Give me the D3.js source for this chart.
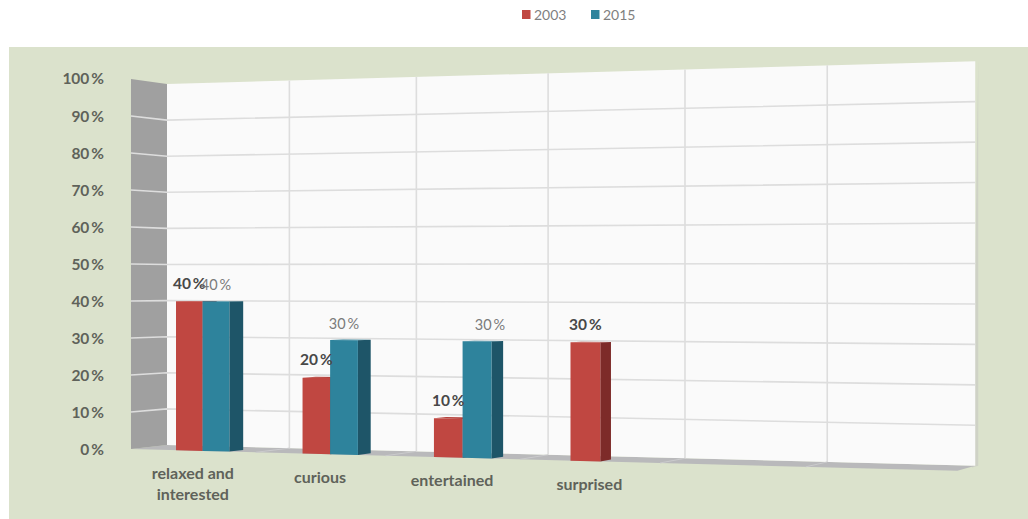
<!DOCTYPE html>
<html>
<head>
<meta charset="utf-8">
<script src="https://cdn.jsdelivr.net/npm/d3@7"></script>
<style>
  html, body { margin: 0; padding: 0; background: #fff; }
  svg { display: block; }
  text { font-family: Lato, "Open Sans", sans-serif; }
</style>
</head>
<body>
<div id="chart"></div>
<script>
// Chart data
const categories = [["relaxed and", "interested"], ["curious"], ["entertained"], ["surprised"], [""], [""]];
const seriesNames = ["2003", "2015"];
const values2003 = [40, 20, 10, 30];
const values2015 = [40, 30, 30, null];
const valueTicks = d3.range(0, 101, 10);

const colors = {
  panel: "#dbe2cc",
  wall: "#fafafa",
  sideWall: "#a0a0a0",
  floor: "#b9b9bb",
  grid: "#dddddd",
  axisText: "#5f625a",
  legendText: "#7f7f7f"
};
const barShades = {
  "2003": { front: "#c04741", side: "#7d2b29", top: "#b5423c" },
  "2015": { front: "#2e839c", side: "#1e5568", top: "#2a7a92" }
};

const width = 1028, height = 519;
const svg = d3.select("#chart").append("svg").attr("width", width).attr("height", height);

// Scales for the three axes of the box: category, value and depth
const uScale = d3.scaleBand().domain(d3.range(categories.length)).range([0, categories.length]);
const vScale = d3.scaleLinear().domain([0, 100]).range([445, 84]);

// Perspective projection of a box coordinate to the page
function project(u, value, depth) {
  const w = 1 - 0.01795 * u - 0.0243 * depth;
  return [
    (117.2 * u + 167 - 39.2 * depth) / w,
    (-4.9 * u + vScale(value) - 6.9 * depth) / w
  ];
}
const path = d3.line();
const poly = pts => path(pts) + "Z";
const U = categories.length;

// Background panel
svg.append("rect").attr("x", 9).attr("y", 47).attr("width", width - 9).attr("height", height - 47)
  .attr("fill", colors.panel);

// Back wall, side wall and floor
const box = svg.append("g");
box.append("path")
  .attr("d", poly([project(U, 100, 0), project(U, 0, 0), project(U, 0, 0.35)].map(p => [p[0] + 3, p[1]])))
  .attr("fill", "#cfd2c6");
box.append("path")
  .attr("d", poly([project(0, 0, 0), project(U, 0, 0), project(U, 0, 1), project(0, 0, 1)]))
  .attr("fill", colors.floor);
box.append("path")
  .attr("d", poly([project(0, 100, 0), project(U, 100, 0), project(U, 0, 0), project(0, 0, 0)]))
  .attr("fill", colors.wall);
box.append("path")
  .attr("d", poly([project(0, 100, 1), project(0, 100, 0), project(0, 0, 0), project(0, 0, 1)]))
  .attr("fill", colors.sideWall);

// Grid lines across both walls and the floor
const gridPath = pts => path(pts);
box.append("g").selectAll("path").data(valueTicks.filter(t => t > 0 && t < 100)).join("path")
  .attr("d", t => gridPath([project(0, t, 1), project(0, t, 0), project(U, t, 0)]))
  .attr("fill", "none").attr("stroke", colors.grid).attr("stroke-width", 1.6);
box.append("g").selectAll("path").data(d3.range(1, U)).join("path")
  .attr("d", u => gridPath([project(u, 100, 0), project(u, 0, 0)]))
  .attr("fill", "none").attr("stroke", colors.grid).attr("stroke-width", 1.6);
box.append("g").selectAll("path").data(d3.range(1, U)).join("path")
  .attr("d", u => gridPath([project(u, 0, 0), project(u, 0, 1)]))
  .attr("fill", "none").attr("stroke", "#cbcbcd").attr("stroke-width", 1);

// Bars: each one is a projected cuboid
const barStart = 0.365, barSize = 0.213, depthFront = 1, depthBack = 0.6;
const rows = [];
categories.forEach((c, i) => {
  [values2003, values2015].forEach((vals, j) => {
    if (vals[i] != null) rows.push({ i, j, value: vals[i], series: seriesNames[j] });
  });
});
const u0 = d => uScale(d.i) + barStart + d.j * barSize;
const bars = svg.append("g").selectAll("g").data(rows).join("g");
bars.append("path")
  .attr("d", d => poly([
    project(u0(d), d.value, depthFront), project(u0(d) + barSize, d.value, depthFront),
    project(u0(d) + barSize, d.value, depthBack), project(u0(d), d.value, depthBack)]))
  .attr("fill", d => barShades[d.series].top);
bars.append("path")
  .attr("d", d => poly([
    project(u0(d) + barSize, d.value, depthFront), project(u0(d) + barSize, d.value, depthBack),
    project(u0(d) + barSize, 0, depthBack), project(u0(d) + barSize, 0, depthFront)]))
  .attr("fill", d => barShades[d.series].side);
bars.append("path")
  .attr("d", d => poly([
    project(u0(d), d.value, depthFront), project(u0(d) + barSize, d.value, depthFront),
    project(u0(d) + barSize, 0, depthFront), project(u0(d), 0, depthFront)]))
  .attr("fill", d => barShades[d.series].front);

// Value labels sit above the bars, the lone third-group label is pushed right
const labelShift = { "2-1": 13 };
svg.append("g").selectAll("text").data(rows).join("text")
  .attr("x", d => project(u0(d) + barSize / 2, d.value, depthFront)[0] + (labelShift[d.i + "-" + d.j] || 0))
  .attr("y", d => project(u0(d) + barSize / 2, d.value, depthFront)[1] + (d.j === 0 ? -18 : -16))
  .attr("dy", "0.35em")
  .attr("text-anchor", "middle")
  .attr("font-size", d => d.j === 0 ? 15.5 : 14.5)
  .attr("font-weight", d => d.j === 0 ? 700 : 400)
  .attr("fill", d => d.j === 0 ? "#484848" : "#7a7a7a")
  .text(d => d.value + "\u2009%");

// Value axis along the front edge of the side wall
const frontAxis = d3.scaleLinear().domain([0, 100]).range([project(0, 0, 1)[1] + 1, project(0, 100, 1)[1]]);
const yAxis = svg.append("g").attr("transform", "translate(104,0)")
  .call(d3.axisLeft(frontAxis).tickValues(valueTicks).tickSize(0).tickPadding(0).tickFormat(t => t + "\u2009%"));
yAxis.select(".domain").remove();
yAxis.selectAll("text")
  .attr("font-family", "Lato, sans-serif").attr("font-size", 15.5).attr("font-weight", 700)
  .attr("fill", colors.axisText);

// Category labels below the floor edge
const catLabels = svg.append("g").selectAll("text").data(categories.slice(0, 4)).join("text")
  .attr("text-anchor", "middle")
  .attr("font-size", 16).attr("font-weight", 700).attr("fill", colors.axisText)
  .attr("transform", (c, i) => {
    const p = project(uScale(i) + 0.5, 0, 1);
    return `translate(${p[0]},${p[1] + 23})`;
  });
catLabels.selectAll("tspan").data(c => c).join("tspan")
  .attr("x", 0)
  .attr("y", (l, k) => k * 21)
  .attr("dy", "0.35em")
  .text(l => l);

// Legend
const legendSlots = [522, 591];
const legend = svg.append("g").selectAll("g").data(seriesNames).join("g")
  .attr("transform", (s, i) => `translate(${legendSlots[i]},10)`);
legend.append("rect").attr("width", 8.5).attr("height", 9)
  .attr("fill", s => barShades[s].front);
legend.append("text").attr("x", 12).attr("y", 5).attr("dy", "0.35em")
  .attr("font-size", 14).attr("fill", colors.legendText).text(s => s);
</script>
</body>
</html>
